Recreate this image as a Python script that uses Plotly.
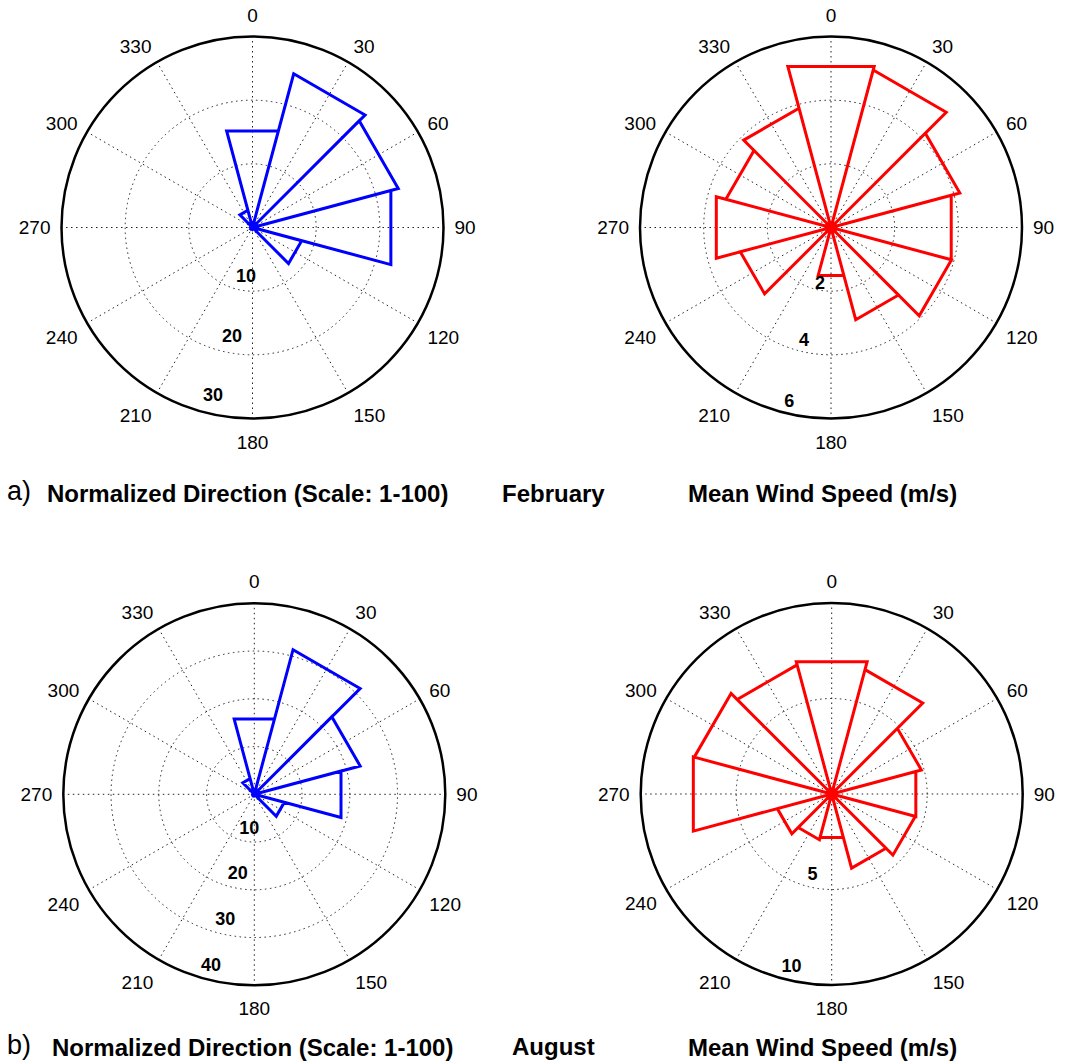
import plotly.graph_objects as go

# 12 direction bins (degrees, clockwise from north), 30 degrees wide
bin_centers = [0, 30, 60, 90, 120, 150, 180, 210, 240, 270, 300, 330]
bin_width = 30

# February
feb_direction = [15.7, 25.0, 23.7, 22.5, 8.0, 0.3, 0.3, 0.3, 0.3, 0.3, 0.3, 2.8]
feb_speed = [5.24, 5.12, 4.19, 3.91, 3.92, 3.0, 1.56, 0.0, 2.95, 3.73, 3.42, 3.88]
# August
aug_direction = [16.3, 31.35, 22.95, 18.8, 6.5, 0.3, 0.3, 0.3, 0.3, 0.3, 0.3, 3.4]
aug_speed = [7.17, 6.74, 4.86, 4.56, 4.53, 4.02, 2.36, 2.48, 2.95, 7.5, 7.45, 7.0]

# radial rings per panel and their labels (r, theta) placements
panels = [
    dict(values=feb_direction, color="#0000FF", rmax=30, rings=[10, 20, 30],
         lab_r=[7.9, 17.5, 27.3], lab_t=[187.4, 190.6, 193.1],
         center=(252.5, 227.5)),
    dict(values=feb_speed, color="#FF0000", rmax=6, rings=[2, 4, 6],
         lab_r=[1.82, 3.69, 5.65], lab_t=[191.0, 193.3, 193.4],
         center=(831.0, 227.5)),
    dict(values=aug_direction, color="#0000FF", rmax=40, rings=[10, 20, 30, 40],
         lab_r=[7.5, 17.2, 27.1, 37.1], lab_t=[188.0, 191.6, 193.0, 194.1],
         center=(254.3, 794.3)),
    dict(values=aug_speed, color="#FF0000", rmax=10, rings=[5, 10],
         lab_r=[4.38, 9.3], lab_t=[193.2, 193.1],
         center=(831.7, 794.0)),
]

W, H = 1067, 1062
R = 191  # circle radius in px
GRID_DASH = "1.5px,3.5px"

fig = go.Figure()
layout = dict(width=W, height=H, margin=dict(l=0, r=0, t=0, b=0),
              paper_bgcolor="white", showlegend=False)

for i, p in enumerate(panels):
    name = "polar" if i == 0 else f"polar{i+1}"
    # rose outline: center -> (r, left edge) -> (r, right edge) -> center
    rr, tt = [], []
    for c, v in zip(bin_centers, p["values"]):
        rr += [0, v, v, 0]
        tt += [c, c - bin_width / 2, c + bin_width / 2, c]
    fig.add_trace(go.Scatterpolar(r=rr, theta=tt, mode="lines",
                                  line=dict(color=p["color"], width=3),
                                  subplot=name, hoverinfo="skip"))
    fig.add_trace(go.Scatterpolar(r=p["lab_r"], theta=p["lab_t"], mode="text",
                                  text=[f"<b>{v}</b>" for v in p["rings"]],
                                  textfont=dict(family="Liberation Sans", size=18, color="black"),
                                  subplot=name, hoverinfo="skip"))
    cx, cy = p["center"]
    layout[name] = dict(
        domain=dict(x=[(cx - R) / W, (cx + R) / W],
                    y=[1 - (cy + R) / H, 1 - (cy - R) / H]),
        bgcolor="white",
        radialaxis=dict(range=[0, p["rmax"]], tickvals=p["rings"][:-1],
                        showticklabels=False, ticks="", showline=False,
                        gridcolor="#222", gridwidth=1, griddash=GRID_DASH),
        angularaxis=dict(rotation=90, direction="clockwise",
                         tickvals=bin_centers, ticktext=[str(b) for b in bin_centers],
                         ticks="outside", ticklen=6, tickcolor="rgba(0,0,0,0)",
                         tickfont=dict(family="Liberation Sans", size=19, color="black"),
                         showline=True, linecolor="black", linewidth=2.5,
                         gridcolor="#222", gridwidth=1, griddash=GRID_DASH),
    )

def label(x, y, text, size, bold=True, xanchor="left"):
    fig.add_annotation(x=x / W, y=1 - y / H, xref="paper", yref="paper",
                       text=f"<b>{text}</b>" if bold else text, showarrow=False,
                       xanchor=xanchor, yanchor="middle",
                       font=dict(family="Liberation Sans", size=size, color="black"))

label(5, 491, "a)", 27, bold=False)
label(45, 493, "Normalized Direction (Scale: 1-100)", 24)
label(553.5, 494, "February", 24, xanchor="center")
label(822, 494, "Mean Wind Speed (m/s)", 24, xanchor="center")
label(5, 1045, "b)", 27, bold=False)
label(50, 1047, "Normalized Direction (Scale: 1-100)", 24)
label(553.5, 1046, "August", 24, xanchor="center")
label(822, 1047, "Mean Wind Speed (m/s)", 24, xanchor="center")

fig.update_layout(**layout)
fig.write_html("out.html")
